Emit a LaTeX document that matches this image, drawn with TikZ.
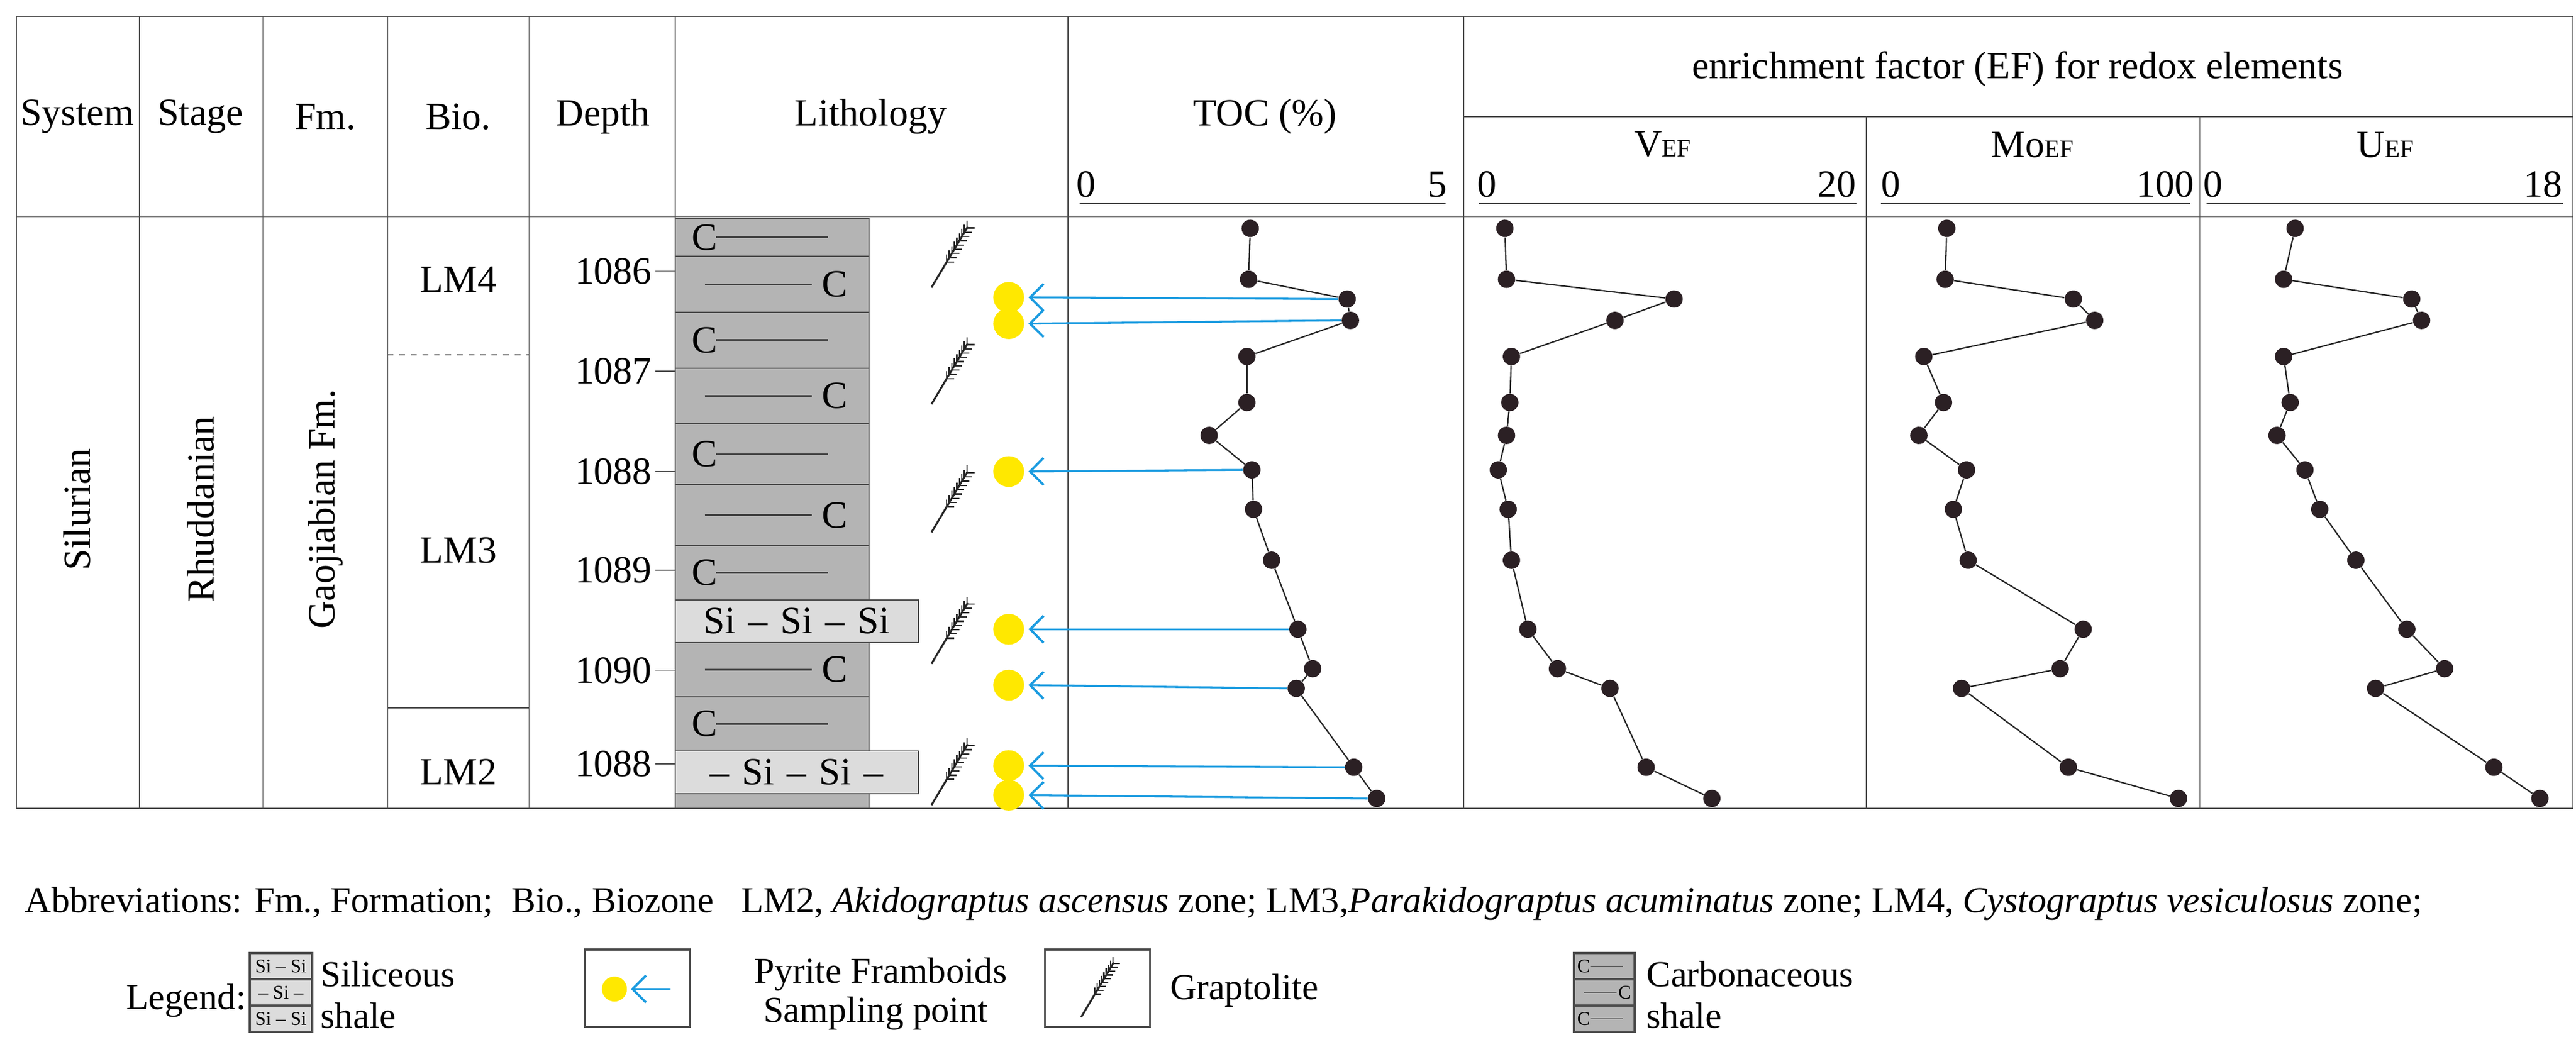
\documentclass[tikz,border=0pt]{standalone}
\usepackage{fontspec}
\setmainfont{Liberation Serif}
\usetikzlibrary{arrows.meta, positioning, calc}
\definecolor{carb}{HTML}{B4B4B4}
\definecolor{sili}{HTML}{DCDCDC}
\definecolor{arrblue}{HTML}{1A9BE0}
\definecolor{pyr}{HTML}{FFE800}
\definecolor{dot}{HTML}{2B2024}
\newcommand{\sm}[1]{{\fontsize{13}{13}\selectfont #1}}
\newcommand{\lf}{\rmfamily\fontsize{19}{22}\selectfont}
\begin{document}
\begin{tikzpicture}[
    x=0.03cm, y=-0.03cm,
    every node/.style={font=\rmfamily\fontsize{20}{24}\selectfont, inner sep=0pt},
    grid/.style={draw=black!70, line width=0.5pt},
    axisl/.style={black!80, line width=0.6pt},
    layer/.style={draw=black!70, fill=carb, line width=0.6pt},
    slayer/.style={draw=black!70, fill=sili, line width=0.6pt},
    cline/.style={black!75, line width=0.9pt},
    pt/.style={circle, fill=dot, minimum size=9pt},
    curve/.style={black!85, line width=0.7pt},
    pyrite/.style={circle, fill=pyr, minimum size=16pt},
    samp/.style={arrblue, line width=1pt, -{Straight Barb[length=7pt, width=14pt, line width=1.2pt]}},
    grap/.pic={
        \draw[line width=1pt, black!85] (-11,19) -- (11,-18);
        \foreach \s in {0.42,0.49,...,1.0} {
            \draw[line width=0.7pt, black!85] ($(-11,19)!\s!(11,-18)$) -- ++(0,-4.5);
            \draw[line width=0.7pt, black!85] ($(-11,19)!\s!(11,-18)$) -- ++(4.5,0);
        }
    }
]
    \useasboundingbox (0,0) rectangle (1568,637);

    % table frame
    \draw[grid] (10,10) rectangle (1566,492);
    \draw[grid] (10,132) -- (1566,132);
    \draw[grid] (891,71) -- (1566,71);
    \foreach \x in {85,160,236,322,411,650,891} \draw[grid] (\x,10) -- (\x,492);
    \foreach \x in {1136,1339} \draw[grid] (\x,71) -- (\x,492);

    % header texts
    \node (hsys) at (47,71) {System};
    \node (hsta) at (122,71) {Stage};
    \node (hfm) at (198,71) {Fm.};
    \node (hbio) at (279,71) {Bio.};
    \node (hdep) at (367,71) {Depth};
    \node (hlit) at (530,71) {Lithology};
    \node (htoc) at (770,71) {TOC (\%)};
    \node (hef) at (1228,42) {enrichment factor (EF) for redox elements};
    \node (hv) at (1012,88) {V\sm{EF}};
    \node (hm) at (1237,88) {Mo\sm{EF}};
    \node (hu) at (1452,88) {U\sm{EF}};

    % axes
    \draw[axisl] (657,124) -- (880,124);
    \node[above=3pt] at (661,124) {0};
    \node[above=3pt] at (875,124) {5};
    \draw[axisl] (900,124) -- (1130,124);
    \node[above=3pt] at (905,124) {0};
    \node[above=3pt] at (1118,124) {20};
    \draw[axisl] (1145,124) -- (1333,124);
    \node[above=3pt] at (1151,124) {0};
    \node[above=3pt] at (1318,124) {100};
    \draw[axisl] (1343,124) -- (1560,124);
    \node[above=3pt] at (1347,124) {0};
    \node[above=3pt] at (1548,124) {18};

    % system / stage / formation / biozone
    \node[rotate=90] (sil) at (47,310) {Silurian};
    \node[rotate=90] (rhu) at (122,310) {Rhuddanian};
    \node[rotate=90] (gao) at (198,310) {Gaojiabian Fm.};
    \node (lm4) at (279,170) {LM4};
    \node (lm3) at (279,335) {LM3};
    \node (lm2) at (279,470) {LM2};
    \draw[grid, dashed] (236,216) -- (322,216);
    \draw[grid] (236,431) -- (322,431);

    % depth scale
    \foreach \y/\d in {165/1086,226/1087,287/1088,347/1089,408/1090,465/1088} {
        \draw[grid] (399,\y) -- (411,\y);
        \node[anchor=east] at (397,\y) {\d};
    }

    % lithology
    \foreach \a/\b/\s in {133/156/L,156/190/R,190/224/L,224/258/R,258/295/L,295/332/R,332/365/L,391/424/R,424/457/L,483/492/N} {
        \draw[layer] (411,\a) rectangle (529,\b);
        \if\s L
            \node at (429,{(\a+\b)/2}) {C};
            \draw[cline] (436,{(\a+\b)/2}) -- (504,{(\a+\b)/2});
        \fi
        \if\s R
            \draw[cline] (429,{(\a+\b)/2}) -- (494,{(\a+\b)/2});
            \node at (508,{(\a+\b)/2}) {C};
        \fi
    }
    \draw[slayer] (411,365) rectangle (559,391);
    \node (si1) at (485,378) {Si\,\,--\,\,Si\,\,--\,\,Si};
    \draw[slayer] (411,457) rectangle (559,483);
    \node (si2) at (485,470) {--\,\,Si\,\,--\,\,Si\,\,--};

    % graptolites
    \foreach \y in {156,227,305,385,471} \pic at (578,\y) {grap};

    % data: index / y / TOC / V / Mo / U
    \foreach \i/\y/\t/\v/\m/\u in {
        1/139/761/916/1185/1397, 2/170/760/917/1184/1390, 3/182/820/1019/1262/1468,
        4/195/822/983/1275/1474, 5/217/759/920/1171/1390, 6/245/759/919/1183/1394,
        7/265/736/917/1168/1386, 8/286/762/912/1197/1403, 9/310/763/918/1189/1412,
        10/341/774/920/1198/1434, 11/383/790/930/1268/1465, 12/407/799/948/1254/1488,
        13/419/789/980/1194/1446, 14/467/824/1002/1259/1518, 15/486/838/1042/1326/1546} {
        \node[pt] (t\i) at (\t,\y) {};
        \node[pt] (v\i) at (\v,\y) {};
        \node[pt] (m\i) at (\m,\y) {};
        \node[pt] (u\i) at (\u,\y) {};
    }
    \foreach \i [remember=\i as \j (initially 1)] in {2,...,15} {
        \draw[curve] (t\j) -- (t\i);
        \draw[curve] (v\j) -- (v\i);
        \draw[curve] (m\j) -- (m\i);
        \draw[curve] (u\j) -- (u\i);
    }

    % pyrite framboid sampling points
    \foreach \k/\y/\i in {1/181/3,2/197/4,3/287/8,4/383/11,5/417/13,6/466/14,7/484/15} {
        \node[pyrite] (p\k) at (614,\y) {};
        \coordinate (q\k) at (626,\y);
        \draw[samp] (t\i.west) -- (q\k);
    }

    % abbreviations
    \node[anchor=west, font=\lf] (abbr) at (15,550) {Abbreviations: Fm., Formation;\ \ Bio., Biozone\ \ \ LM2, \textit{Akidograptus ascensus} zone; LM3,\textit{Parakidograptus acuminatus} zone; LM4, \textit{Cystograptus vesiculosus} zone;};

    % legend
    \node[anchor=east, font=\lf] (leg) at (150,609) {Legend:};
    \foreach \a/\t in {580/{Si -- Si},596/{-- Si --},612/{Si -- Si}} {
        \draw[slayer, line width=1.2pt] (152,\a) rectangle (190,\a+16);
        \node[font=\rmfamily\fontsize{10}{10}\selectfont] at (171,\a+8) {\t};
    }
    \node[anchor=west, font=\lf] (lsil) at (195,593) {Siliceous};
    \node[anchor=west, font=\lf] (lsh1) at (195,618) {shale};

    \draw[grid, line width=1pt] (356,578) rectangle (420,625);
    \node[pyrite, minimum size=13pt] (lp) at (374,602) {};
    \coordinate (lq) at (384,602);
    \coordinate (lr) at (408,602);
    \draw[samp, line width=0.8pt] (lr) -- (lq);
    \node[font=\lf] (lpf) at (536,593) {Pyrite Framboids};
    \node[font=\lf] (lsp) at (533,617) {Sampling point};

    \draw[grid, line width=1pt] (636,578) rectangle (700,625);
    \pic[scale=0.9] at (668,602) {grap};
    \node[anchor=west, font=\lf] (lgr) at (712,603) {Graptolite};

    \foreach \a/\s in {580/L,596/R,612/L} {
        \draw[layer, line width=1.2pt] (958,\a) rectangle (995,\a+16);
        \if\s L
            \node[font=\rmfamily\fontsize{10}{10}\selectfont] at (964,\a+8) {C};
            \draw[black!70] (968,\a+8) -- (988,\a+8);
        \else
            \draw[black!70] (964,\a+8) -- (984,\a+8);
            \node[font=\rmfamily\fontsize{10}{10}\selectfont] at (989,\a+8) {C};
        \fi
    }
    \node[anchor=west, font=\lf] (lcar) at (1002,593) {Carbonaceous};
    \node[anchor=west, font=\lf] (lsh2) at (1002,618) {shale};
\end{tikzpicture}
\end{document}
